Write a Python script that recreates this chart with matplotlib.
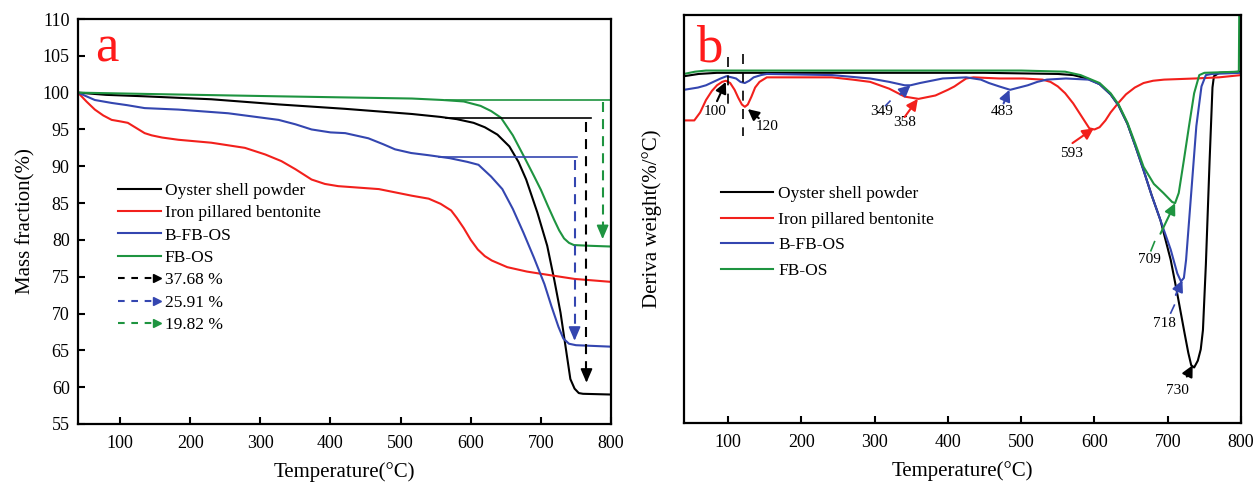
import matplotlib
matplotlib.use("Agg")
import matplotlib.pyplot as plt
from matplotlib.lines import Line2D
from matplotlib.legend_handler import HandlerBase

plt.rcParams['font.family'] = ['Liberation Serif', 'DejaVu Serif']

BLACK = '#000000'
RED = '#f2201c'
BLUE = '#3446b0'
GREEN = '#1e9440'

names = ['Oyster shell powder', 'Iron pillared bentonite', 'B-FB-OS', 'FB-OS']
colors = [BLACK, RED, BLUE, GREEN]

# ---- panel a: mass fraction (%) vs temperature ----
osp_t = [40, 80, 135, 230, 326, 421, 516, 557, 580, 604, 620, 638, 655, 668, 679, 695, 709, 719,
         728, 735, 742, 748, 754, 760, 800]
osp_w = [100.0, 99.7, 99.5, 99.1, 98.4, 97.8, 97.1, 96.7, 96.4, 95.9, 95.3, 94.3, 92.7, 90.6, 88.2,
         83.7, 79.2, 74.6, 70.1, 65.6, 61.1, 59.8, 59.2, 59.1, 59.0]

ipb_t = [40, 52, 64, 76, 88, 100, 111, 123, 135, 145, 160, 183, 230, 278, 307, 330, 350, 373, 392,
         411, 440, 469, 516, 540, 557, 572, 580, 590, 600, 610, 620, 630, 652, 680, 700, 748, 800]
ipb_w = [100.0, 98.8, 97.7, 96.9, 96.3, 96.1, 95.9, 95.2, 94.5, 94.2, 93.9, 93.6, 93.2, 92.5, 91.6,
         90.7, 89.6, 88.2, 87.6, 87.3, 87.1, 86.9, 86.0, 85.6, 84.9, 84.0, 83.0, 81.6, 80.0, 78.7,
         77.8, 77.2, 76.3, 75.7, 75.4, 74.7, 74.3]

bfo_t = [40, 64, 88, 110, 135, 183, 254, 326, 350, 373, 400, 421, 454, 475, 492, 515, 540, 570,
         595, 611, 629, 645, 660, 675, 690, 705, 715, 725, 732, 740, 750, 800]
bfo_w = [100.0, 99.0, 98.6, 98.3, 97.9, 97.7, 97.2, 96.3, 95.7, 95.0, 94.6, 94.5, 93.8, 93.0, 92.3,
         91.8, 91.5, 91.1, 90.6, 90.2, 88.6, 86.9, 84.2, 81.0, 77.6, 74.0, 71.0, 68.2, 66.6, 65.9,
         65.7, 65.5]

gfo_t = [40, 150, 326, 516, 560, 590, 614, 629, 643, 660, 676, 690, 700, 710, 719, 726, 733, 740,
         747, 770, 800]
gfo_w = [100.0, 99.8, 99.5, 99.2, 99.0, 98.8, 98.2, 97.5, 96.6, 94.2, 91.3, 88.7, 86.8, 84.6, 82.7,
         81.3, 80.2, 79.6, 79.3, 79.2, 79.1]

# reference lines and mass-loss arrows (black, blue, green)
loss_labels = ['37.68 %', '25.91 %', '19.82 %']
loss_colors = [BLACK, BLUE, GREEN]
ref_level = [96.5, 91.3, 99.05]
ref_start = [565, 555, 565]
ref_end = [771, 751, 800]
arrow_x = [765, 748, 788]
arrow_top = [96.0, 90.9, 98.7]
arrow_tip = [60.6, 66.3, 80.1]

# ---- panel b: derivative weight ----
d_osp_t = [40, 60, 85, 150, 300, 450, 550, 571, 590, 607, 622, 633, 645, 656, 667, 678, 690, 704,
           713, 723, 728, 732, 736, 741, 745, 748, 752, 757, 761, 763, 770, 800]
d_osp = [-0.04, -0.02, -0.01, -0.01, -0.01, -0.01, -0.02, -0.03, -0.06, -0.11, -0.20, -0.30, -0.46,
         -0.66, -0.87, -1.09, -1.31, -1.66, -1.96, -2.31, -2.48, -2.59, -2.61, -2.55, -2.45, -2.28,
         -1.70, -0.80, -0.14, -0.04, -0.01, 0.0]

d_ipb_t = [40, 54, 62, 70, 78, 85, 92, 97, 103, 109, 114, 119, 123, 127, 132, 137, 143, 153, 200,
           242, 270, 294, 320, 341, 360, 383, 400, 409, 418, 425, 435, 470, 503, 529, 540, 550, 560,
           571, 580, 586, 593, 600, 607, 615, 622, 632, 643, 655, 667, 680, 695, 737, 770, 800]
d_ipb = [-0.43, -0.43, -0.36, -0.25, -0.17, -0.12, -0.09, -0.08, -0.10, -0.16, -0.23, -0.29, -0.31,
         -0.29, -0.22, -0.14, -0.09, -0.05, -0.05, -0.05, -0.07, -0.09, -0.15, -0.22, -0.24, -0.21,
         -0.16, -0.13, -0.09, -0.06, -0.05, -0.06, -0.06, -0.07, -0.09, -0.13, -0.19, -0.28, -0.37,
         -0.43, -0.50, -0.51, -0.49, -0.43, -0.36, -0.28, -0.20, -0.14, -0.10, -0.08, -0.07, -0.06,
         -0.05, -0.03]

d_bfo_t = [40, 59, 70, 80, 90, 98, 105, 111, 117, 123, 129, 135, 145, 153, 242, 294, 320, 341, 349,
           362, 393, 425, 445, 456, 470, 485, 497, 509, 522, 535, 561, 592, 607, 622, 633, 645, 656,
           667, 678, 690, 704, 713, 718, 722, 725, 732, 739, 746, 752, 760, 800]
d_bfo = [-0.16, -0.14, -0.12, -0.09, -0.06, -0.04, -0.05, -0.06, -0.09, -0.10, -0.08, -0.05, -0.03,
         -0.02, -0.03, -0.06, -0.09, -0.12, -0.12, -0.10, -0.06, -0.05, -0.07, -0.10, -0.13, -0.16,
         -0.14, -0.12, -0.09, -0.07, -0.06, -0.07, -0.11, -0.20, -0.30, -0.46, -0.66, -0.87, -1.09,
         -1.31, -1.57, -1.78, -1.85, -1.82, -1.66, -1.07, -0.48, -0.13, -0.03, -0.02, -0.01]

d_gfo_t = [40, 55, 70, 100, 300, 500, 560, 581, 607, 622, 633, 645, 656, 667, 681, 694, 706, 710,
           715, 722, 729, 736, 743, 750, 796, 797, 798]
d_gfo = [-0.02, 0.0, 0.01, 0.01, 0.01, 0.01, 0.0, -0.03, -0.10, -0.19, -0.29, -0.45, -0.64, -0.84,
         -0.99, -1.07, -1.15, -1.16, -1.07, -0.78, -0.48, -0.19, -0.03, -0.01, 0.0, 0.01, 1.0]

# peak annotations: label, text position, arrow tail, arrow tip, colour
peak_labels = ['100', '120', '349', '358', '483', '593', '709', '718', '730']
peak_text = [(82, -0.35), (153, -0.48), (310, -0.35), (341, -0.45), (474, -0.35), (568, -0.72),
             (675, -1.66), (695, -2.22), (713, -2.81)]
peak_tail = [(85, -0.26), (142, -0.41), (335, -0.20), (341, -0.40), (476, -0.28), (570, -0.63),
             (690, -1.43), (711, -1.97), (726, -2.69)]
peak_tip = [(97, -0.09), (127, -0.33), (349, -0.12), (359, -0.24), (484, -0.16), (599, -0.50),
            (710, -1.16), (720, -1.84), (734, -2.59)]
peak_colors = [BLACK, BLACK, BLUE, RED, BLUE, RED, GREEN, BLUE, BLACK]
stub_xy = [((315, -0.30), (321, -0.26)), ((677, -1.58), (682, -1.50)), ((704, -2.13), (709, -2.06))]
stub_colors = [BLUE, GREEN, BLUE]
vline_x = [100, 121]
vline_y = [(0.13, -0.32), (0.16, -0.57)]


class DashArrowHandler(HandlerBase):
    def create_artists(self, legend, orig_handle, xdescent, ydescent, width, height, fontsize, trans):
        c = orig_handle.get_color()
        y = height / 2 - ydescent
        x0, x1 = -xdescent, width - xdescent
        dash = Line2D([x0, x1 - 6], [y, y], color=c, lw=1.5, ls=(0, (3.2, 3.2)), transform=trans)
        head = Line2D([x1 - 3], [y], marker='>', ms=6, color=c, ls='none', transform=trans)
        return [dash, head]


def style_axes(ax):
    for s in ax.spines.values():
        s.set_linewidth(1.6)
    ax.tick_params(axis='both', direction='in', length=5, width=1.5, labelsize=13)
    ax.tick_params(axis='x', pad=8)
    ax.set_xlim(40, 800)
    ax.set_xticks(range(100, 801, 100))
    ax.set_xlabel('Temperature(°C)', fontsize=15, labelpad=7)


fig = plt.figure(figsize=(12.56, 4.86), dpi=100)
ax1 = fig.add_axes([0.0621, 0.1276, 0.4244, 0.8333])
ax2 = fig.add_axes([0.5446, 0.1296, 0.4435, 0.8395])

# panel a
for t, w, c, n in zip([osp_t, ipb_t, bfo_t, gfo_t], [osp_w, ipb_w, bfo_w, gfo_w], colors, names):
    ax1.plot(t, w, color=c, lw=1.5, label=n)
for i in range(3):
    c = loss_colors[i]
    ax1.plot([ref_start[i], ref_end[i]], [ref_level[i], ref_level[i]], color=c, lw=1.2)
    ax1.plot([arrow_x[i], arrow_x[i]], [arrow_top[i], arrow_tip[i] + 1.2], color=c, lw=1.5,
             ls=(0, (4.8, 3.4)))
    ax1.annotate('', xy=(arrow_x[i], arrow_tip[i]), xytext=(arrow_x[i], arrow_tip[i] + 1.5),
                 arrowprops=dict(arrowstyle='-|>,head_length=0.7,head_width=0.3', color=c, lw=1.2,
                                 shrinkA=0, shrinkB=0, mutation_scale=12))
ax1.set_ylim(55, 110)
ax1.set_yticks(range(55, 111, 5))
ax1.set_ylabel('Mass fraction(%)', fontsize=15, labelpad=5)
style_axes(ax1)
ax1.tick_params(axis='y', pad=6)
ax1.text(0.032, 0.895, 'a', transform=ax1.transAxes, color='#ff1a1a', fontsize=38, va='baseline')

line_handles = [Line2D([], [], color=c, lw=1.5) for c in colors]
arrow_handles = [Line2D([], [], color=c) for c in loss_colors]
ax1.legend(line_handles + arrow_handles, names + loss_labels, loc='upper left',
           bbox_to_anchor=(0.075, 0.596), frameon=False, fontsize=12.5, borderpad=0,
           borderaxespad=0, handlelength=2.5, handletextpad=0.2, labelspacing=0.36,
           handler_map={h: DashArrowHandler() for h in arrow_handles})

# panel b
for t, d, c, n in zip([d_osp_t, d_ipb_t, d_bfo_t, d_gfo_t], [d_osp, d_ipb, d_bfo, d_gfo], colors, names):
    ax2.plot(t, d, color=c, lw=1.5, label=n)
for x, (y0, y1) in zip(vline_x, vline_y):
    ax2.plot([x, x], [y0, y1], color=BLACK, lw=1.2, ls=(0, (6, 5)))
for (p0, p1), c in zip(stub_xy, stub_colors):
    ax2.plot([p0[0], p1[0]], [p0[1], p1[1]], color=c, lw=1.2)
for lab, txt, tail, tip, c in zip(peak_labels, peak_text, peak_tail, peak_tip, peak_colors):
    ax2.text(txt[0], txt[1], lab, fontsize=11, ha='center', va='center')
    ax2.annotate('', xy=tip, xytext=tail,
                 arrowprops=dict(arrowstyle='-|>,head_length=0.6,head_width=0.3', color=c, lw=1.5,
                                 shrinkA=0, shrinkB=0, mutation_scale=11))
ax2.set_ylim(-3.1, 0.5)
ax2.set_yticks([])
ax2.set_ylabel('Deriva weight(%/°C)', fontsize=15, labelpad=16)
style_axes(ax2)
ax2.text(0.0215, 0.886, 'b', transform=ax2.transAxes, color='#ff1a1a', fontsize=38, va='baseline')
ax2.legend(loc='upper left', bbox_to_anchor=(0.066, 0.582), frameon=False, fontsize=12.5,
           borderpad=0, borderaxespad=0, handlelength=3.0, handletextpad=0.3, labelspacing=0.56)

fig.savefig('out.png', dpi=100)
